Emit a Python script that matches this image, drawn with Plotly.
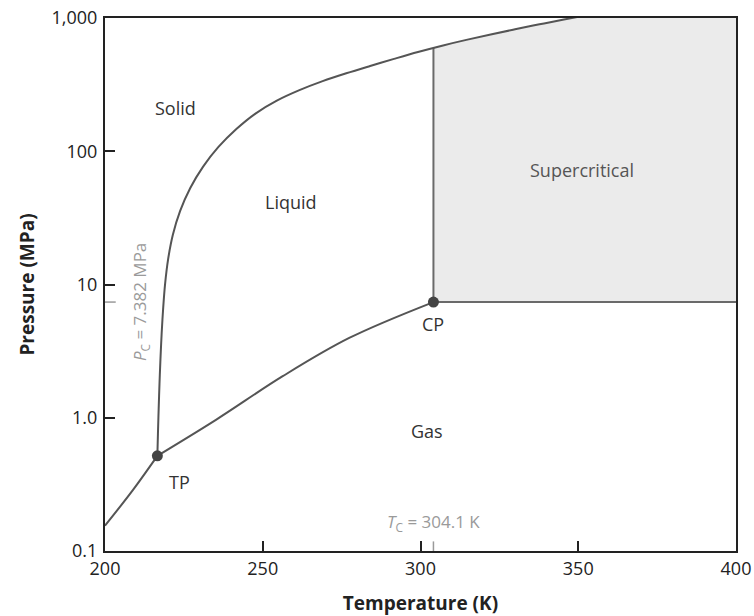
import numpy as np
import plotly.graph_objects as go

# CO2 phase diagram: temperature (K) vs pressure (MPa)
T_TP, P_TP = 216.6, 0.518      # triple point
T_C, P_C = 304.1, 7.382        # critical point

# solid-liquid (melting) boundary, starting at the triple point
melt_T = [216.6, 216.78, 217.01, 217.27, 217.58, 217.95, 218.42, 219.04, 220.0, 221.51,
          223.82, 227.03, 231.1, 235.96, 241.55, 247.69, 254.46, 261.62, 268.99, 276.48,
          284.04, 291.61, 299.2, 306.85, 314.53, 322.24, 329.97, 337.71, 345.46, 353.22]
melt_P = [0.518, 0.757, 1.166, 1.796, 2.766, 4.253, 6.549, 10.07, 15.45, 23.6,
          35.65, 52.96, 76.64, 107.7, 146.2, 191.8, 239.7, 287.3, 335.7, 384.6,
          436.4, 493.4, 555.7, 619.7, 685.0, 751.8, 822.7, 897.0, 972.7, 1057]

# solid-gas (sublimation) boundary up to the triple point
subl_T = [200.0, 208.94, 216.6]
subl_P = [0.155, 0.289, 0.518]

# liquid-gas (vaporisation) boundary from triple point to critical point
vap_T = [216.6, 235.29, 256.33, 277.41, 304.1]
vap_P = [0.518, 0.969, 2.05, 3.97, 7.382]

x_ticks = [200, 250, 300, 350, 400]
y_ticks = [0.1, 1, 10, 100, 1000]
y_ticktext = ["0.1", "1.0", "10", "100", "1,000"]

FONT = "Open Sans"
INK = "#222222"
LINE = "#555555"
GRAY = "#9a9a9a"

fig = go.Figure()

# supercritical region: above Pc, right of Tc, below the melting curve
mT = np.array(melt_T)
mP = np.array(melt_P)
P_at_Tc = float(10 ** np.interp(T_C, mT, np.log10(mP)))
sel = mT > T_C
sc_x = [T_C, T_C] + list(mT[sel]) + [400, 400, T_C]
sc_y = [P_C, P_at_Tc] + list(mP[sel]) + [1000, P_C, P_C]
fig.add_trace(go.Scatter(x=sc_x, y=sc_y, fill="toself", fillcolor="#ebebeb",
                         line=dict(width=0), mode="lines", hoverinfo="skip"))

# critical isotherm and isobar bounding the supercritical region
fig.add_trace(go.Scatter(x=[T_C, T_C], y=[P_at_Tc, P_C], mode="lines",
                         line=dict(color="#6a6a6a", width=2)))
fig.add_trace(go.Scatter(x=[T_C, 400], y=[P_C, P_C], mode="lines",
                         line=dict(color="#6a6a6a", width=2)))

# phase boundaries
for xs, ys in [(melt_T, melt_P), (subl_T, subl_P), (vap_T, vap_P)]:
    fig.add_trace(go.Scatter(x=xs, y=ys, mode="lines",
                             line=dict(color=LINE, width=2, shape="spline", smoothing=1.0)))

# triple and critical points
fig.add_trace(go.Scatter(x=[T_TP, T_C], y=[P_TP, P_C], mode="markers",
                         marker=dict(color="#444444", size=11)))


def label(text, x, y, color="#333333", size=18, **kw):
    fig.add_annotation(text=text, x=x, y=y, showarrow=False,
                       font=dict(family=FONT, size=size, color=color), **kw)


label("Solid", 222.4, np.log10(212))
label("Liquid", 259.0, np.log10(41.9))
label("Supercritical", 351.3, np.log10(72.8), color="#555555")
label("Gas", 302.0, np.log10(0.79))
label("TP", 223.7, np.log10(0.33))
label("CP", 304.0, np.log10(5.08))

# critical value markers on the axes
fig.add_shape(type="line", xref="x", yref="paper", x0=T_C, x1=T_C, y0=0, y1=0.018,
              line=dict(color=GRAY, width=1.5))
fig.add_shape(type="line", xref="paper", yref="y", x0=0, x1=0.017, y0=P_C, y1=P_C,
              line=dict(color=GRAY, width=1.5))
label(f"<i>T</i><sub>C</sub> = {T_C} K", T_C, 0.026, color=GRAY, size=17,
      yref="paper", yanchor="bottom")
label(f"<i>P</i><sub>C</sub> = {P_C} MPa", 211.1, np.log10(P_C), color=GRAY, size=17,
      textangle=-90)

axis_common = dict(showline=True, linecolor=INK, linewidth=2, mirror=True,
                   ticks="inside", ticklen=10, tickwidth=1.5, tickcolor=INK,
                   showgrid=False, zeroline=False, automargin=False,
                   tickfont=dict(family=FONT, size=18, color=INK))

fig.update_xaxes(range=[200, 400], tickvals=x_ticks,
                 title=dict(text="<b>Temperature (K)</b>",
                            font=dict(family=FONT, size=19, color=INK), standoff=18),
                 **axis_common)
fig.update_yaxes(type="log", range=[-1, 3], tickvals=y_ticks, ticktext=y_ticktext,
                 ticklabelstandoff=2,
                 title=dict(text="<b>Pressure (MPa)</b>",
                            font=dict(family=FONT, size=19, color=INK), standoff=12),
                 **axis_common)

fig.update_layout(width=754, height=616, showlegend=False,
                  plot_bgcolor="white", paper_bgcolor="white",
                  margin=dict(l=105, r=18, t=18, b=65))

fig.write_html("out.html")
